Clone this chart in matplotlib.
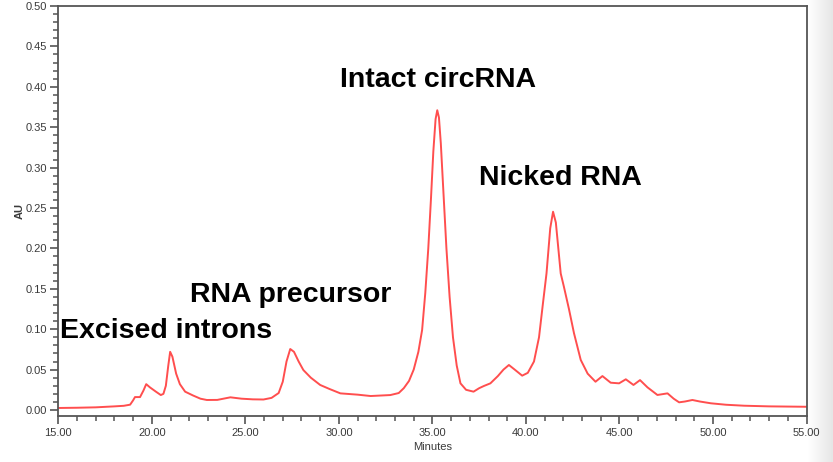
import matplotlib
matplotlib.use("Agg")
import matplotlib.pyplot as plt
from matplotlib.ticker import MultipleLocator, FormatStrFormatter
import numpy as np

plt.rcParams['font.family'] = ['Liberation Sans', 'DejaVu Sans']

minutes = [15.0, 16.0, 17.0, 18.0, 18.5, 18.84, 19.0, 19.1, 19.37, 19.55, 19.7, 19.9, 20.2, 20.48, 20.62,
           20.75, 20.88, 20.98, 21.1, 21.3, 21.5, 21.78, 22.2, 22.6, 22.94, 23.5, 24.2, 24.8, 25.4, 25.97,
           26.4, 26.78, 27.0, 27.2, 27.4, 27.6, 27.85, 28.1, 28.5, 29.0, 29.5, 30.08, 31.0, 31.7, 32.75,
           33.2, 33.47, 33.75, 34.0, 34.25, 34.45, 34.62, 34.78, 34.92, 35.05, 35.17, 35.26, 35.35, 35.45,
           35.6, 35.75, 35.92, 36.1, 36.3, 36.5, 36.8, 37.2, 37.5, 37.75, 38.1, 38.5, 38.8, 39.09, 39.4,
           39.8, 40.1, 40.43, 40.7, 40.9, 41.1, 41.3, 41.45, 41.6, 41.86, 42.03, 42.3, 42.57, 42.93, 43.3,
           43.72, 44.09, 44.53, 44.98, 45.34, 45.75, 46.1, 46.5, 47.03, 47.57, 47.9, 48.19, 48.5, 48.9,
           49.3, 49.89, 50.7, 51.67, 53.0, 55.0]
absorbance = [0.0025, 0.0028, 0.0033, 0.0045, 0.0052, 0.0066, 0.012, 0.016, 0.016, 0.024, 0.032, 0.028, 0.023, 0.0185, 0.020,
              0.030, 0.055, 0.072, 0.066, 0.045, 0.032, 0.0227, 0.018, 0.014, 0.0124, 0.0125, 0.0157, 0.014, 0.0132, 0.013,
              0.015, 0.021, 0.035, 0.060, 0.0755, 0.072, 0.060, 0.0495, 0.040, 0.031, 0.026, 0.0206, 0.019, 0.0173, 0.0185,
              0.021, 0.027, 0.036, 0.050, 0.072, 0.099, 0.145, 0.200, 0.260, 0.320, 0.360, 0.371, 0.362, 0.330,
              0.265, 0.200, 0.140, 0.090, 0.055, 0.033, 0.025, 0.0227, 0.027, 0.0297, 0.033, 0.042, 0.050, 0.0557, 0.050,
              0.0425, 0.046, 0.060, 0.090, 0.130, 0.169, 0.225, 0.2454, 0.232, 0.169, 0.1526, 0.125, 0.095, 0.062, 0.045,
              0.035, 0.042, 0.0338, 0.033, 0.038, 0.031, 0.037, 0.028, 0.0186, 0.0206, 0.014, 0.0095, 0.0105, 0.0124,
              0.0105, 0.0083, 0.0065, 0.0053, 0.0045, 0.004]

labels = ["Intact circRNA", "Nicked RNA", "RNA precursor", "Excised introns"]
label_x = [30.08, 37.48, 22.06, 15.09]
label_y = [0.400, 0.278, 0.1337, 0.089]

W, H = 833, 462
fig = plt.figure(figsize=(W / 100, H / 100), dpi=100)

# subtle gray gradient at the right edge
gax = fig.add_axes([808 / W, 0, (W - 808) / W, 1])
grad = np.linspace(1.0, 0.90, 50).reshape(1, -1)
gax.imshow(grad, aspect='auto', cmap='gray', vmin=0, vmax=1, extent=[0, 1, 0, 1])
gax.axis('off')

ax = fig.add_axes([58.3 / W, 1 - 415.7 / H, (806.5 - 58.3) / W, (415.7 - 6) / H])
ax.plot(minutes, absorbance, color='#ff3b3b', lw=1.4, alpha=0.9, solid_joinstyle='round')

ax.set_xlim(15, 55)
ax.set_ylim(-0.00705, 0.5)
ax.xaxis.set_major_locator(MultipleLocator(5))
ax.xaxis.set_minor_locator(MultipleLocator(1))
ax.yaxis.set_major_locator(MultipleLocator(0.05))
ax.yaxis.set_minor_locator(MultipleLocator(0.01))
ax.xaxis.set_major_formatter(FormatStrFormatter('%.2f'))
ax.yaxis.set_major_formatter(FormatStrFormatter('%.2f'))

spine_c = '#555555'
for s in ax.spines.values():
    s.set_color(spine_c)
    s.set_linewidth(1.3)
ax.tick_params(axis='both', which='major', direction='out', length=6, width=1.2,
               colors=spine_c, labelcolor='#3a3a3a', labelsize=8, pad=2)
ax.tick_params(axis='both', which='minor', direction='out', length=3.5, width=1.1, colors=spine_c)
ax.tick_params(axis='x', which='major', pad=3)

ax.set_xlabel('Minutes', fontsize=8, color='#3a3a3a', labelpad=3)
ax.set_ylabel('AU', fontsize=8, color='#3a3a3a', fontweight='bold', labelpad=1)

for t, x, y in zip(labels, label_x, label_y):
    ax.text(x, y, t, fontsize=20.5, fontweight='bold', color='black', ha='left', va='baseline')

fig.savefig('out.png', dpi=100)
